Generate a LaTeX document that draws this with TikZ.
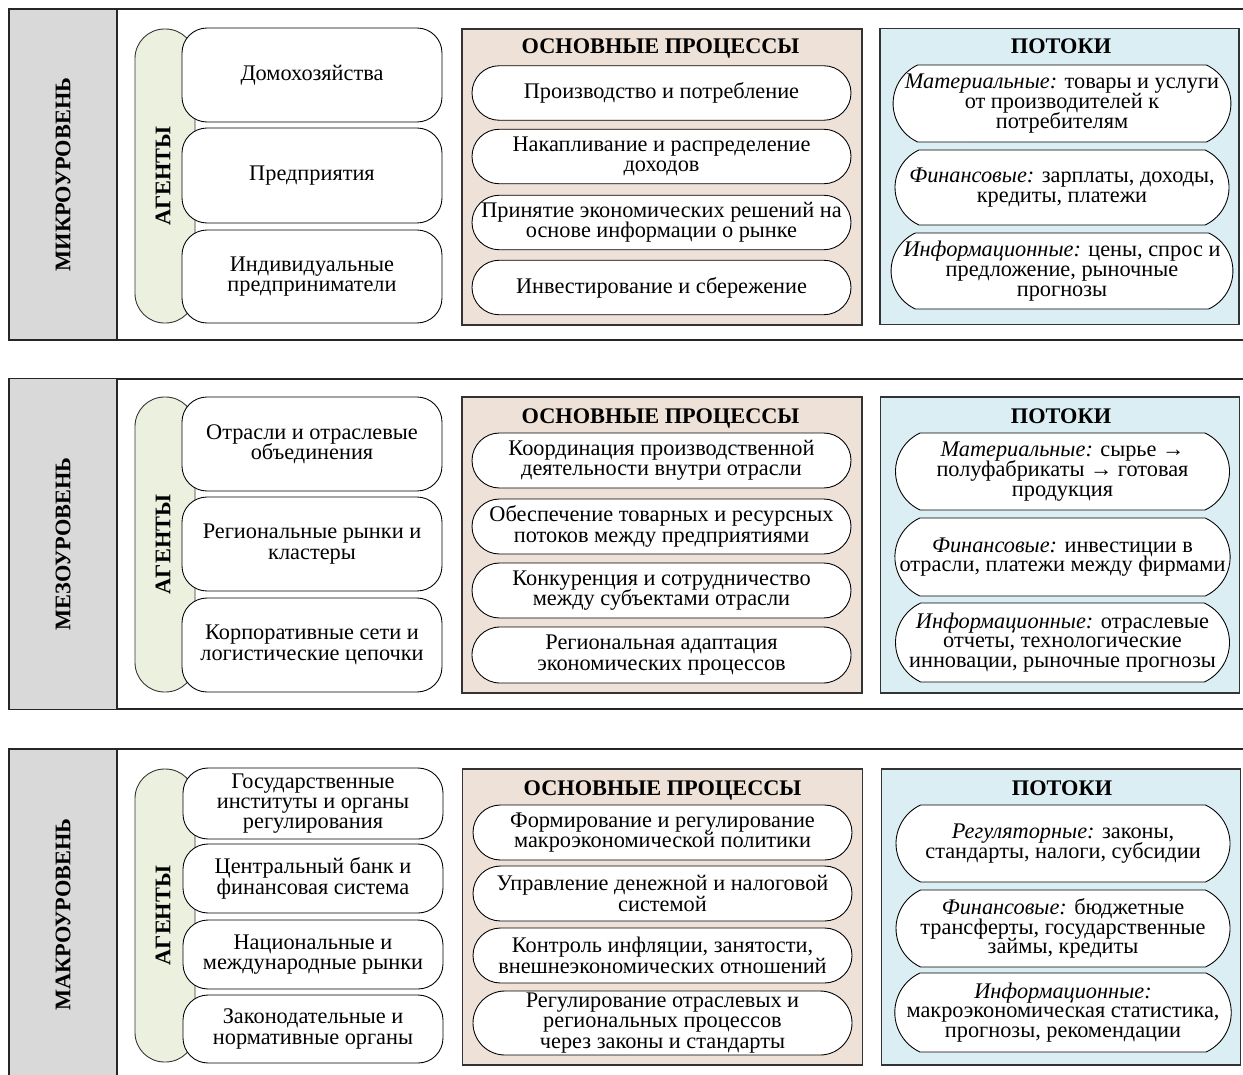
\documentclass[tikz,border=0pt]{standalone}
\usepackage{fontspec}
\setmainfont{Liberation Serif}
\usepackage{tikz}
\usetikzlibrary{shapes.misc}
\lineskiplimit=-\maxdimen
\definecolor{LevelGray}{HTML}{D9D9D9}
\definecolor{AgentGreen}{HTML}{EBF1DE}
\definecolor{ProcBeige}{HTML}{EEE1D7}
\definecolor{FlowBlue}{HTML}{DBEEF4}
\tikzstyle{none}=[inner sep=0pt]
\tikzstyle{frame}=[rectangle,draw=black!85,line width=0.8pt,minimum width=24.82cm,minimum height=6.62cm]
\tikzstyle{level}=[rectangle,draw=black!85,line width=0.8pt,fill=LevelGray,rotate=90,minimum width=6.62cm,minimum height=2.16cm,font=\fontsize{12.7}{11.6}\bfseries]
\tikzstyle{agentsbar}=[rectangle,draw=black!80,line width=0.5pt,fill=AgentGreen,rounded corners=0.59cm,minimum width=1.2cm]
\tikzstyle{vlabel}=[inner sep=0pt,rotate=90,font=\fontsize{12.7}{11.6}\bfseries]
\tikzstyle{agent}=[rectangle,draw=black,line width=0.5pt,fill=white,rounded corners=0.5cm,minimum width=5.2cm,align=center,inner sep=0pt]
\tikzstyle{procbox}=[rectangle,draw=black!80,line width=0.6pt,fill=ProcBeige,minimum width=8cm,minimum height=5.92cm]
\tikzstyle{flowbox}=[rectangle,draw=black!80,line width=0.6pt,fill=FlowBlue,minimum width=7.18cm,minimum height=5.92cm]
\tikzstyle{title}=[inner sep=0pt,font=\fontsize{12.7}{11.6}\bfseries]
\tikzstyle{proc}=[rounded rectangle,rounded rectangle arc length=180,draw=black,line width=0.5pt,fill=white,minimum width=7.58cm,minimum height=1.09cm,align=center,inner sep=0pt]
\tikzstyle{flow}=[rounded rectangle,rounded rectangle arc length=130,draw=black,line width=0.5pt,fill=white,minimum width=6.68cm,align=center,inner sep=0pt,font=\fontsize{12.7}{11.2}\selectfont]

\begin{document}
\begin{tikzpicture}[font=\fontsize{12.7}{11.6}\selectfont]
 \useasboundingbox (0,0) rectangle (24.86,-21.48);
 \clip (0,0) rectangle (24.86,-21.48);
 \node [style=frame] (0) at (12.59, -3.49) {};
 \node [style=frame, minimum height=6.60cm] (1) at (12.59, -10.88) {};
 \node [style=frame] (2) at (12.59, -18.29) {};
 \node [style=level] (3) at (1.26, -3.49) {МИКРОУРОВЕНЬ};
 \node [style=level] (4) at (1.26, -10.88) {МЕЗОУРОВЕНЬ};
 \node [style=level] (5) at (1.26, -18.29) {МАКРОУРОВЕНЬ};
 \node [style=agentsbar, minimum height=5.88cm] (6) at (3.30, -3.52) {};
 \node [style=agentsbar, minimum height=5.90cm] (7) at (3.30, -10.89) {};
 \node [style=agentsbar, minimum height=5.86cm] (8) at (3.30, -18.31) {};
 \node [style=vlabel] (9) at (3.26, -3.52) {АГЕНТЫ};
 \node [style=vlabel] (10) at (3.26, -10.89) {АГЕНТЫ};
 \node [style=vlabel] (11) at (3.26, -18.31) {АГЕНТЫ};
 \node [style=agent, minimum height=1.88cm] (12) at (6.24, -1.50) {Домохозяйства};
 \node [style=agent, minimum height=1.90cm] (13) at (6.24, -3.51) {Предприятия};
 \node [style=agent, minimum height=1.86cm] (14) at (6.24, -5.53) {Индивидуальные\\предприниматели};
 \node [style=agent, minimum height=1.88cm] (15) at (6.24, -8.88) {Отрасли и отраслевые\\объединения};
 \node [style=agent, minimum height=1.88cm] (16) at (6.24, -10.88) {Региональные рынки и\\кластеры};
 \node [style=agent, minimum height=1.88cm] (17) at (6.24, -12.90) {Корпоративные сети и\\логистические цепочки};
 \node [style=agent, minimum height=1.42cm] (18) at (6.26, -16.07) {Государственные\\институты и органы\\регулирования};
 \node [style=agent, minimum height=1.38cm] (19) at (6.26, -17.57) {Центральный банк и\\финансовая система};
 \node [style=agent, minimum height=1.38cm] (20) at (6.26, -19.09) {Национальные и\\международные рынки};
 \node [style=agent, minimum height=1.36cm] (21) at (6.26, -20.58) {Законодательные и\\нормативные органы};
 \node [style=procbox] (22) at (13.24, -3.54) {};
 \node [style=procbox] (23) at (13.24, -10.90) {};
 \node [style=procbox] (24) at (13.25, -18.34) {};
 \node [style=flowbox] (25) at (21.19, -3.53) {};
 \node [style=flowbox] (26) at (21.20, -10.90) {};
 \node [style=flowbox] (27) at (21.22, -18.34) {};
 \node [style=title] (28) at (13.21, -0.96) {ОСНОВНЫЕ ПРОЦЕССЫ};
 \node [style=title] (29) at (21.22, -0.92) {ПОТОКИ};
 \node [style=title] (30) at (13.21, -8.36) {ОСНОВНЫЕ ПРОЦЕССЫ};
 \node [style=title] (31) at (21.22, -8.32) {ПОТОКИ};
 \node [style=title] (32) at (13.25, -15.80) {ОСНОВНЫЕ ПРОЦЕССЫ};
 \node [style=title] (33) at (21.24, -15.76) {ПОТОКИ};
 \node [style=proc] (34) at (13.23, -1.86) {Производство и потребление};
 \node [style=proc] (35) at (13.23, -3.13) {Накапливание и распределение\\доходов};
 \node [style=proc] (36) at (13.23, -4.45) {Принятие экономических решений на\\основе информации о рынке};
 \node [style=proc] (37) at (13.23, -5.75) {Инвестирование и сбережение};
 \node [style=proc, minimum height=1.10cm] (38) at (13.23, -9.21) {Координация производственной\\деятельности внутри отрасли};
 \node [style=proc, minimum height=1.10cm] (39) at (13.23, -10.53) {Обеспечение товарных и ресурсных\\потоков между предприятиями};
 \node [style=proc, minimum height=1.10cm] (40) at (13.23, -11.81) {Конкуренция и сотрудничество\\между субъектами отрасли};
 \node [style=proc, minimum height=1.12cm] (41) at (13.23, -13.10) {Региональная адаптация\\экономических процессов};
 \node [style=proc, minimum height=1.10cm] (42) at (13.25, -16.65) {Формирование и регулирование\\макроэкономической политики};
 \node [style=proc, minimum height=1.10cm] (43) at (13.25, -17.87) {Управление денежной и налоговой\\системой};
 \node [style=proc, minimum height=1.10cm] (44) at (13.25, -19.11) {Контроль инфляции, занятости,\\внешнеэкономических отношений};
 \node [style=proc, minimum height=1.28cm] (45) at (13.25, -20.46) {Регулирование отраслевых и\\региональных процессов\\через законы и стандарты};
 \node [style=flow, minimum height=1.54cm] (46) at (21.24, -2.07) {\textit{Материальные:} товары и услуги\\от производителей к\\потребителям};
 \node [style=flow, minimum height=1.50cm] (47) at (21.24, -3.75) {\textit{Финансовые:} зарплаты, доходы,\\кредиты, платежи};
 \node [style=flow, minimum height=1.52cm] (48) at (21.24, -5.42) {\textit{Информационные:} цены, спрос и\\предложение, рыночные\\прогнозы};
 \node [style=flow, minimum height=1.54cm] (49) at (21.25, -9.43) {\textit{Материальные:} сырье →\\полуфабрикаты → готовая\\продукция};
 \node [style=flow, minimum height=1.56cm] (50) at (21.25, -11.14) {\textit{Финансовые:} инвестиции в\\отрасли, платежи между фирмами};
 \node [style=flow, minimum height=1.58cm] (51) at (21.25, -12.85) {\textit{Информационные:} отраслевые\\отчеты, технологические\\инновации, рыночные прогнозы};
 \node [style=flow, minimum height=1.54cm] (52) at (21.26, -16.87) {\textit{Регуляторные:} законы,\\стандарты, налоги, субсидии};
 \node [style=flow, minimum height=1.54cm] (53) at (21.26, -18.57) {\textit{Финансовые:} бюджетные\\трансферты, государственные\\займы, кредиты};
 \node [style=flow, minimum height=1.58cm] (54) at (21.26, -20.25) {\textit{Информационные:}\\макроэкономическая статистика,\\прогнозы, рекомендации};
\end{tikzpicture}
\end{document}
